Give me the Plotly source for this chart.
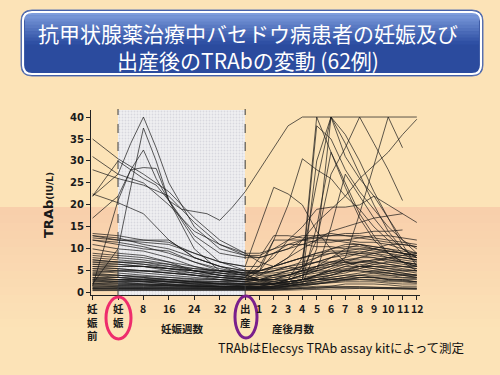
import plotly.graph_objects as go

# ---------------- data ----------------
PREG_WEEKS = [-8, 0, 4, 8, 12, 16, 20, 24, 28, 32, 36, 40]   # -8 = before pregnancy, 40 = delivery
POST_MONTHS = [1, 2, 3, 4, 5, 6, 7, 8, 9, 10, 11, 12]
WEEKS_PER_MONTH_ON_AXIS = 4.5

TICK_WEEKS = [-8, 0, 8, 16, 24, 32, 40]
TICK_WEEK_LABELS = ["妊<br>娠<br>前", "妊<br>娠", "8", "16", "24", "32", "出<br>産"]
TICK_MONTH_LABELS = [str(m) for m in POST_MONTHS]

Y_TICKS = [0, 5, 10, 15, 20, 25, 30, 35, 40]

N = None
# columns: pre, w0, w4, w8, w12, w16, w20, w24, w28, w32, w36, w40(delivery), m1..m12
TRAB = [
    [22, 27, 34, 40, 33, 25, N, 15, N, 10, N, 8.5, 8.5, 10, 12, 13, 13, 13.5, 13, 13, 12.5, 12, 11.5, 11],
    [2, 10, 24, 37.5, 30, 21, N, 10, N, 5, N, 4, 3, 2, 2, 3, 30, 40, 34, 27, 20, 14, 10, 8],
    [17, 22, 28, 32.5, 26, 21, N, 13, N, 9, N, 8, 8, 9, 10, 11, 12, 12, 11.5, 11, 10.5, 10, 9, 8],
    [1.5, 21, 28, 28.5, 28.3, 21, N, 12, N, 7, N, 6, 6, 8, 12, 15, 19, 19.5, 19.5, 20, 22, 17, 11, 6],
    [22, 30, 28, 26, 24.5, 21, 19, 18.5, 18, 16.5, 19.5, 23, 28, 33, 38, 40, 40, 40, 40, 40, 40, 40, 40, 40],
    [35, 30.5, N, 27, N, 23, N, 17, N, 12, N, 9, 9, 10, 11, 12, 12.5, 13, 13, 12.5, 12, 11.5, 11, 10.5],
    [31, 27, N, 25, N, 20, N, 14, N, 11, N, 8.5, 8, 9, 10, 12, 13, 13, 13.5, 13.5, 14, 14, 14.3, N],
    [28, 26, N, 24.5, N, 22, N, 16, N, 11, N, 9, 7, 6, 8, 12, 16, 19, 22, 26, 29, 32, 36, 39.5],
    [22.5, 20.5, N, 18, N, 12, N, 8, N, 6, N, 5, 5, 12, 20, 30.5, 28, 26, 22, 19, 15, 12, 9, 7],
    [13.5, 13, N, 12, N, 11.5, N, 9, N, 7, N, 6, 15, 24, 22.5, 20, 14, 10, 7, 6, 5.5, 5, 4.5, 4],
    [13, 12, N, 12, N, 12, N, 8, N, 6, N, 4, 3, 3, 2.5, 3, 15, 32, 24, 17, 12, 9, 7, 6],
    [12.5, 12, N, 11.5, N, 11, N, 9, N, 7, N, 5, 4, 4, 4, 5, 5, 15, 27, 22, 17, 13, 10, 8],
    [12, 11, N, 10, N, 9.5, N, 7, N, 5, N, 4, 3, 2.5, 2, 6, 40, 32, 25, 18, 13, 9, 7, 5],
    [11, 10, N, 9.5, N, 8, N, 6, N, 4.5, N, 3.5, 2.5, 2, 2, 2, 10, 40, 36, 30, 23, 17, 12, 9],
    [10, 9, N, 8.5, N, 7, N, 5, N, 4, N, 3, 3, 3, 4, 5, 12, 27, 33, 40, 34, 28, 21, N],
    [8, 7.5, N, 7, N, 6.5, N, 5, N, 4, N, 3.5, 3, 3, 3, 4, 5, 6, 8, 18, 29, 40, 33, N],
    [7.5, 7, N, 7, N, 6, N, 5, N, 4.5, N, 4, 4, 5, 6, 5, 38, 35, 28, 23, 19, 15, 12, 10],
    [7, 6.5, N, 6, N, 5, N, 4, N, 3, N, 2.5, 2, 2, 3, 8, 25, 40, 31, 26, 22, 20, 18, 16],
    [6.5, 6, N, 6, N, 5.5, N, 5, N, 4, N, 3.5, 8, 13, 13, 12.5, 12.5, 12, 12, 11.5, 11.5, 11, 11, 10.5],
    [6, 5.5, N, 5, N, 5, N, 4.5, N, 4, N, 3.5, 6, 12, 12, 12, 11.5, 11.5, 12, 12.5, 13, 13, 12.5, 12],
    [5.5, 5, N, 5, N, 4.5, N, 4, N, 3.5, N, 3, 5, 9, 11, 11, 10.5, 10.5, 10, 10, 9.5, 9, 8.5, 8],
    [5, 5, N, 4.5, N, 4, N, 3.5, N, 3, N, 2.5, 4, 6, 8, 10, 12, 14, 15, 16, 17, 17.5, 18, N],
    [4.5, 4, N, 3.5, N, 3, N, 2.5, N, 2, N, 2, 2.5, 3, 4, 5, 6, 7, 7.5, 7.5, 7, 6.5, 6, 5.5],
    [4, 4, N, 3.5, N, 3, N, 2.5, N, 2.5, N, 2, 2, 2.5, 3, 4, 5, 6, 7, 8, 9, 9.5, 9, 8.5],
    [3.5, 3.5, N, 3, N, 2.5, N, 2, N, 2, N, 1.5, 2, 2, 2.5, 3, 3.5, 4, 5, 6, 7, 8, 8.5, 9],
    [3, 3, N, 2.5, N, 2.5, N, 2, N, 1.5, N, 1.5, 1.5, 2, 2, 2.5, 3, 3, 3.5, 4, 4, 4, 3.5, 3.5],
    [2.5, 2.5, N, 2, N, 2, N, 1.5, N, 1.5, N, 1.2, 1.2, 1.5, 2, 3, 4, 5, 6, 6, 5.5, 5, 4.5, 4],
    [2, 2, N, 2, N, 1.8, N, 1.5, N, 1.2, N, 1, 1, 1.2, 1.5, 1.8, 2, 2.2, 2.5, 2.5, 2.5, 2.2, 2, 2],
    [1.5, 1.5, N, 1.5, N, 1.3, N, 1.2, N, 1, N, 1, 1, 1, 1.2, 1.5, 2, 2.5, 3, 3.5, 3.5, 3, 3, 2.5],
    [1, 1, N, 1, N, 1, N, 0.9, N, 0.8, N, 0.8, 0.8, 0.9, 1, 1.2, 1.5, 1.5, 1.5, 1.4, 1.3, 1.2, 1.2, 1],
    [0.8, 0.8, N, 0.8, N, 0.8, N, 0.7, N, 0.7, N, 0.7, 0.7, 0.8, 0.8, 1, 1, 1.2, 1.2, 1.1, 1, 1, 0.9, 0.9],
    [7, 7, N, 6.5, N, 6, N, 5.5, N, 5, N, 4.5, 4.5, 5, 6, 7, 8, 9, 9, 8.5, 8, 7, 6.5, 6],
    [6.5, 6.5, N, 6, N, 5.5, N, 5, N, 4.5, N, 4, 5, 6, 7, 8, 8.5, 9, 9.5, 10, 10, 9.5, 9, 8.5],
    [6, 6, N, 6, N, 5.5, N, 5, N, 5, N, 5, 5, 5.5, 6, 6.5, 7, 7, 7, 6.5, 6, 5.5, 5, 5],
    [7.5, 7, N, 6.5, N, 5.5, N, 4.5, N, 3.5, N, 3, 3, 3.5, 4, 5, 6, 7, 8, 9, 10, 11, 10, 9],
    [3.5, 3, N, 3, N, 2.5, N, 2.5, N, 2, N, 2, 2, 2, 2.5, 3, 3, 3.5, 4, 4.5, 5, 5, 5, 4.5],
    [2, 2.5, N, 2.5, N, 2, N, 2, N, 1.8, N, 1.5, 1.5, 2, 3, 4, 4.5, 5, 5, 5, 4.5, 4, 4, 3.5],
    [1.2, 1.5, N, 1.5, N, 1.5, N, 1.3, N, 1.2, N, 1.2, 1.2, 1.3, 1.5, 2, 2.5, 3, 3.5, 4, 4.5, 4.5, 4, 4],
    [3, 2.5, N, 2.5, N, 2, N, 1.8, N, 1.5, N, 1.5, 1.5, 2, 3, 4, 6, 8, 9, 9.5, 9, 8, 7, 6],
    [4, 3.5, N, 3, N, 3, N, 2.5, N, 2.5, N, 2.5, 3, 4, 5, 6, 7, 8, 10, 11, 10, 9, 8, 7.5],
    [5, 4.5, N, 4, N, 3.5, N, 3, N, 3, N, 2.5, 3, 4, 5, 6, 8, 10, 11, 11, 10.5, 10, 9.5, 9],
    [1, 1.2, N, 1.2, N, 1.1, N, 1, N, 1, N, 0.9, 1, 1.2, 1.5, 2, 3, 4, 5, 5.5, 5, 4.5, 4, 3.5],
    [0.6, 0.7, N, 0.7, N, 0.6, N, 0.6, N, 0.6, N, 0.5, 0.5, 0.6, 0.8, 1, 1.2, 1.5, 2, 2, 2, 1.8, 1.5, 1.5],
    [1.8, 2, N, 1.8, N, 1.6, N, 1.5, N, 1.4, N, 1.3, 1.3, 1.5, 2, 2.5, 3, 3.5, 4, 4, 3.5, 3, 2.8, 2.5],
    [2.8, 3, N, 3, N, 2.8, N, 2.5, N, 2.2, N, 2, 2, 2.2, 2.5, 3, 3.5, 4, 4.5, 5.5, 6.5, 7, 7, 6.5],
    [4.5, 5, N, 5, N, 4.5, N, 4, N, 3.5, N, 3, 3, 3.5, 4, 4.5, 5, 5, 5.5, 6, 6, 6, 6, 5.5],
    [9, 8.5, N, 8, N, 7, N, 6, N, 5, N, 4.5, 5, 6, 7, 8, 9, 9.5, 9.5, 9, 8.5, 8, 7.5, 7],
    [8.5, 8, N, 7.5, N, 6.5, N, 5.5, N, 5, N, 4.5, 4.5, 4.5, 5, 5.5, 6, 6.5, 7, 7, 7, 6.5, 6, 6],
    [N, 3, N, 2.8, N, 2.5, N, 2.2, N, 2, N, 1.8, 1.8, 2, 2.5, 3, 4, 5, 6, 7, 7.5, 7.5, 7, 6.5],
    [N, 1.8, N, 1.8, N, 1.6, N, 1.5, N, 1.4, N, 1.3, 1.3, 1.5, 1.8, 2, 2.5, 3, 3, 3, 2.8, 2.5, 2.5, 2.2],
    [N, 0.9, N, 0.9, N, 0.9, N, 0.8, N, 0.8, N, 0.8, 0.8, 0.9, 1, 1.1, 1.2, 1.3, 1.3, 1.3, 1.2, 1.2, 1.1, 1.1],
    [0.5, 0.5, N, 0.5, N, 0.5, N, 0.5, N, 0.5, N, 0.5, 0.5, 0.5, 0.6, 0.7, 0.8, 0.9, 1, 1, 1, 0.9, 0.9, 0.8],
    [2.2, 2.2, N, 2, N, 1.8, N, 1.6, N, 1.5, N, 1.4, 1.4, 1.6, 2, 2.5, 3, 3.2, 3.4, 3.5, 3.4, 3.2, 3, 3],
    [3.2, 3.5, N, 3.3, N, 3, N, 2.8, N, 2.6, N, 2.4, 2.4, 2.6, 3, 3.5, 4, 4.5, 5, 5, 4.8, 4.5, 4.2, 4],
    [5.5, 5.5, N, 5, N, 4.5, N, 4, N, 3.5, N, 3.2, 3.5, 4, 4.5, 5, 5.5, 6, 6.5, 7, 7.5, 8, 8, 7.5],
    [1.3, 1.3, N, 1.3, N, 1.2, N, 1.1, N, 1.1, N, 1, 1, 1.1, 1.3, 1.6, 2, 2.4, 2.8, 3, 3, 2.8, 2.6, 2.5],
    [0.9, 1, N, 1, N, 0.9, N, 0.9, N, 0.8, N, 0.8, 0.8, 1, 1.5, 2.5, 4, 5.5, 6.5, 7, 6.5, 6, 5.5, 5],
    [2.5, 2.7, N, 2.6, N, 2.4, N, 2.2, N, 2, N, 1.9, 1.9, 2.1, 2.5, 3, 3.8, 4.5, 5.2, 6, 6, 5.6, 5.2, 5],
    [4.2, 4, N, 3.8, N, 3.5, N, 3.2, N, 3, N, 2.8, 2.8, 3, 3.5, 4.5, 5.5, 6.5, 7.5, 8, 8, 7.5, 7, 6.5],
    [13, 12.5, N, 11, N, 10, N, 8, N, 6, N, 5, 5, 6, 7, 8, 9, 10, 10.5, 10.5, 10, 9.5, 9, 8.5],
    [12, 11.5, N, 10.5, N, 9, N, 7, N, 5.5, N, 4.5, 4.5, 5, 5.5, 6, 7, 8, 8.5, 9, 9, 8.5, 8, 7.5],
    [1.6, 1.7, N, 1.7, N, 1.6, N, 1.5, N, 1.4, N, 1.3, 1.3, 1.4, 1.6, 1.9, 2.2, 2.6, 3, 3.4, 3.6, 3.6, 3.4, 3.2],
]

TITLE_LINES = ["抗甲状腺薬治療中バセドウ病患者の妊娠及び", "出産後のTRAbの変動 (62例)"]
Y_TITLE = "<b>TRAb</b><span style='font-size:9px'><b>(IU/L)</b></span>"
X_GROUP_PREG = "妊娠週数"
X_GROUP_POST = "産後月数"
NOTE = "TRAbはElecsys TRAb assay kitによって測定"

# ---------------- geometry helpers ----------------
W, H = 500, 375
L, R, T, B = 91, 420, 110, 295
X_RANGE = [-8.5, 95.0]
Y_RANGE = [-0.5, 41.6]

DELIVERY = PREG_WEEKS[-1]
X_ALL = PREG_WEEKS + [DELIVERY + WEEKS_PER_MONTH_ON_AXIS * m for m in POST_MONTHS]
TICK_MONTH_X = [DELIVERY + WEEKS_PER_MONTH_ON_AXIS * m for m in POST_MONTHS]


def px(xp):
    return (xp - L) / (R - L)


def py(yp):
    return (B - yp) / (B - T)


def rpath(x0, y0, x1, y1, rt, rb):
    """rounded rect path in paper coords (pixel inputs); rt top radius, rb bottom radius"""
    def P(a, b):
        return f"{px(a):.5f},{py(b):.5f}"
    s = f"M {P(x0 + rt, y0)} L {P(x1 - rt, y0)} Q {P(x1, y0)} {P(x1, y0 + rt)} "
    s += f"L {P(x1, y1 - rb)} Q {P(x1, y1)} {P(x1 - rb, y1)} "
    s += f"L {P(x0 + rb, y1)} Q {P(x0, y1)} {P(x0, y1 - rb)} "
    s += f"L {P(x0, y0 + rt)} Q {P(x0, y0)} {P(x0 + rt, y0)} Z"
    return s


def hexmix(c1, c2, t):
    a = [int(c1[i:i + 2], 16) for i in (1, 3, 5)]
    b = [int(c2[i:i + 2], 16) for i in (1, 3, 5)]
    return "#" + "".join(f"{int(round(a[k] + (b[k] - a[k]) * t)):02x}" for k in range(3))


fig = go.Figure()

# shaded pregnancy period (dotted)
fig.add_trace(go.Bar(
    x=[DELIVERY / 2], y=[Y_RANGE[1] - Y_RANGE[0] + 0.3], base=[Y_RANGE[0]], width=[DELIVERY],
    marker=dict(color="#EFEFF2", line=dict(width=0),
                pattern=dict(shape=".", fgcolor="#C2C2CA", bgcolor="#EFEFF2", size=3, solidity=0.3)),
    hoverinfo="skip", showlegend=False, cliponaxis=False))

for row in TRAB:
    fig.add_trace(go.Scatter(
        x=X_ALL, y=row, mode="lines", connectgaps=True,
        line=dict(color="rgba(25,25,25,0.78)", width=0.9),
        hoverinfo="skip", showlegend=False))

shapes = []
# background band
BG = "#FCE3B7"
band_top, band_bot = 207, 335
steps = 16
for i in range(steps):
    y0 = band_top + (band_bot - band_top) * i / steps
    y1 = band_top + (band_bot - band_top) * (i + 1) / steps
    col = hexmix("#F8CFAB", BG, i / (steps - 1))
    shapes.append(dict(type="rect", xref="paper", yref="paper", layer="below",
                       x0=px(0), x1=px(W), y0=py(y1 + 0.5), y1=py(y0),
                       fillcolor=col, line=dict(width=0)))

# title box
bx0, by0, bx1, by1 = 21, 10, 483, 76
shapes.append(dict(type="path", xref="paper", yref="paper", path=rpath(bx0, by0, bx1, by1, 11, 11),
                   fillcolor="#2B4B9E", line=dict(color="#5F77B3", width=1)))
grad_top, grad_mid = by0 + 2, 44
gsteps = 10
for i in range(gsteps):
    y0 = grad_top + (grad_mid - grad_top) * i / gsteps
    y1 = grad_top + (grad_mid - grad_top) * (i + 1) / gsteps + 0.6
    col = hexmix("#7D9CDC", "#2F50A4", i / (gsteps - 1))
    rt = 9 if i == 0 else 0
    inset = 0 if i == 0 else 2
    shapes.append(dict(type="path", xref="paper", yref="paper",
                       path=rpath(bx0 + 2 + inset, y0, bx1 - 2 - inset, y1, rt, 0),
                       fillcolor=col, line=dict(width=0)))
shapes.append(dict(type="path", xref="paper", yref="paper", path=rpath(bx0 + 2, by0 + 2, bx1 - 2, by1 - 2, 9, 9),
                   fillcolor="rgba(0,0,0,0)", line=dict(color="white", width=2.2)))

# dashed boundaries of pregnancy period
for xv in (0, DELIVERY):
    shapes.append(dict(type="line", xref="x", yref="paper", x0=xv, x1=xv, y0=0, y1=py(109),
                       line=dict(color="#3a3a3a", width=1, dash="dash")))

# ellipses
shapes.append(dict(type="circle", xref="paper", yref="paper",
                   x0=px(106), x1=px(131), y0=py(339), y1=py(297),
                   line=dict(color="#EE2C6C", width=3)))
shapes.append(dict(type="circle", xref="paper", yref="paper",
                   x0=px(235), x1=px(257), y0=py(338), y1=py(296),
                   line=dict(color="#7A1F8C", width=3)))

ann = []
TF = "Noto Sans CJK JP"
ann.append(dict(text="<br>".join(TITLE_LINES), x=px(248), y=py(46.5), xref="paper", yref="paper",
                showarrow=False, align="center",
                font=dict(family=TF, size=21, color="white"), xanchor="center", yanchor="middle"))

# x tick labels (stacked)
LBL_FONT = dict(family=TF, size=10.5, color="#1a1a1a")
for xv, t in zip(TICK_WEEKS + TICK_MONTH_X, TICK_WEEK_LABELS + TICK_MONTH_LABELS):
    ann.append(dict(text=f"<b>{t}</b>", x=xv, xref="x", y=py(299), yref="paper",
                    showarrow=False, font=LBL_FONT, xanchor="center", yanchor="top"))

ann.append(dict(text=f"<b>{X_GROUP_PREG}</b>", x=px(182), y=py(328), xref="paper", yref="paper",
                showarrow=False, font=LBL_FONT, xanchor="center", yanchor="middle"))
ann.append(dict(text=f"<b>{X_GROUP_POST}</b>", x=px(293), y=py(328), xref="paper", yref="paper",
                showarrow=False, font=LBL_FONT, xanchor="center", yanchor="middle"))
ann.append(dict(text=NOTE, x=px(341), y=py(347), xref="paper", yref="paper",
                showarrow=False, font=dict(family=TF, size=12.5, color="#111"),
                xanchor="center", yanchor="middle"))
ann.append(dict(text=Y_TITLE, x=px(48), y=py(205), xref="paper", yref="paper", textangle=-90,
                showarrow=False, font=dict(family="DejaVu Sans", size=13, color="#1a1a1a"),
                xanchor="center", yanchor="middle"))

fig.update_layout(
    width=W, height=H,
    margin=dict(l=L, r=W - R, t=T, b=H - B, pad=0),
    paper_bgcolor=BG, plot_bgcolor="rgba(0,0,0,0)",
    shapes=shapes, annotations=ann, showlegend=False, bargap=0,
    xaxis=dict(range=X_RANGE, showgrid=False, zeroline=False, showline=True, linecolor="#222",
               linewidth=1, ticks="outside", ticklen=4, tickcolor="#222",
               tickvals=TICK_WEEKS + TICK_MONTH_X, showticklabels=False, fixedrange=True),
    yaxis=dict(range=Y_RANGE, showgrid=False, zeroline=False, showline=True, linecolor="#222",
               linewidth=1, ticks="outside", ticklen=4, tickcolor="#222",
               tickvals=Y_TICKS, ticktext=[f"<b>{v}</b>" for v in Y_TICKS],
               tickfont=dict(family="DejaVu Sans", size=10, color="#1a1a1a"), fixedrange=True),
)

fig.write_html("out.html", config={"displayModeBar": False},
               post_script="document.body.style.margin='0';document.body.style.overflow='hidden';")
